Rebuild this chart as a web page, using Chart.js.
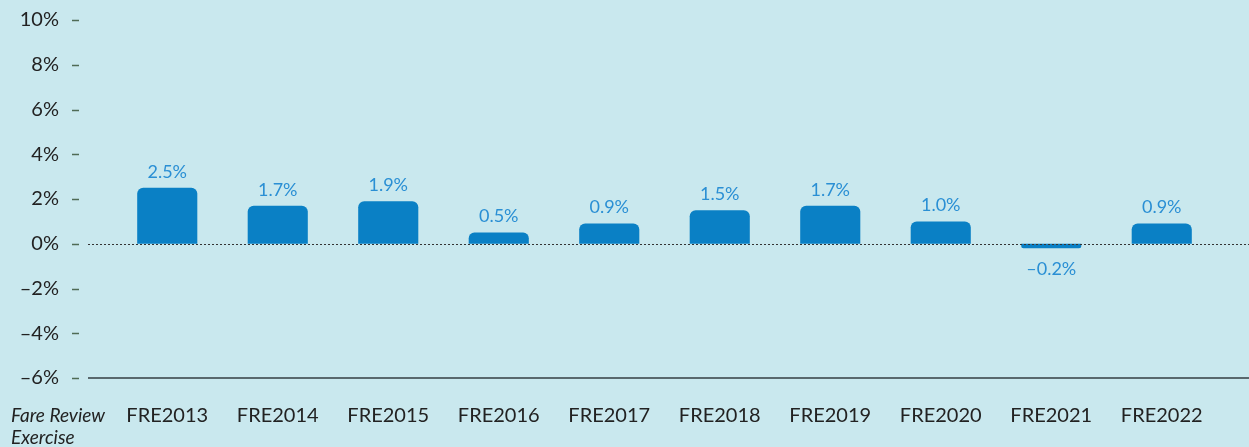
<!DOCTYPE html>
<html>
<head>
<meta charset="utf-8">
<script src="https://cdn.jsdelivr.net/npm/chart.js@4.4.1/dist/chart.umd.min.js"></script>
<style>
  html, body { margin: 0; padding: 0; background: #c9e8ee; }
  #wrap { width: 1249px; height: 447px; }
</style>
</head>
<body>
<div id="wrap"><canvas id="fareChart"></canvas></div>
<script>
// data
const categories = ["FRE2013", "FRE2014", "FRE2015", "FRE2016", "FRE2017",
                    "FRE2018", "FRE2019", "FRE2020", "FRE2021", "FRE2022"];
const changes = [2.5, 1.7, 1.9, 0.5, 0.9, 1.5, 1.7, 1.0, -0.2, 0.9];
const yTicks = [10, 8, 6, 4, 2, 0, -2, -4, -6];

const FONT = "Lato, 'Noto Sans', sans-serif";
const fmt = v => (v < 0 ? "\u2013" + Math.abs(v) : String(v)) + "%";
const fmt1 = v => (v < 0 ? "\u2013" + Math.abs(v).toFixed(1) : v.toFixed(1)) + "%";

/* ---- extra drawing: zero line, base line, tick dashes, value labels ---- */
const decorations = {
    id: "decorations",
    afterDatasetsDraw(chart) {
        const ctx = chart.ctx;
        const y = chart.scales.y;
        const W = chart.width;

        ctx.save();
        // small tick dashes next to the y labels
        ctx.strokeStyle = "#4f6b55";
        ctx.lineWidth = 1.5;
        yTicks.forEach(t => {
            const py = Math.round(y.getPixelForValue(t)) + 0.5;
            ctx.beginPath();
            ctx.moveTo(72, py);
            ctx.lineTo(79, py);
            ctx.stroke();
        });

        // dotted zero line
        const y0 = Math.round(y.getPixelForValue(0)) + 0.5;
        ctx.strokeStyle = "#333";
        ctx.lineWidth = 1;
        ctx.setLineDash([2, 2]);
        ctx.beginPath();
        ctx.moveTo(88, y0);
        ctx.lineTo(W, y0);
        ctx.stroke();
        ctx.setLineDash([]);

        // solid base line at the minimum
        const yb = Math.round(y.getPixelForValue(-6));
        ctx.strokeStyle = "#59686d";
        ctx.lineWidth = 2;
        ctx.beginPath();
        ctx.moveTo(88, yb);
        ctx.lineTo(W, yb);
        ctx.stroke();

        // value labels
        const meta = chart.getDatasetMeta(0);
        ctx.fillStyle = "#2a8fd4";
        ctx.font = "18px " + FONT;
        ctx.textAlign = "center";
        ctx.textBaseline = "middle";
        meta.data.forEach((bar, i) => {
            const v = changes[i];
            const ty = v >= 0 ? bar.y - 16 : bar.y + 21;
            ctx.fillText(fmt1(v), bar.x, ty);
        });

        // axis caption at the left
        ctx.fillStyle = "#222";
        ctx.font = "italic 19px " + FONT;
        ctx.textAlign = "left";
        ctx.fillText("Fare Review", 11, 416);
        ctx.fillText("Exercise", 11, 438);
        ctx.restore();
    }
};

new Chart(document.getElementById("fareChart"), {
    type: "bar",
    data: {
        labels: categories,
        datasets: [{
            data: changes,
            backgroundColor: "#0a80c5",
            borderRadius: 6,
            borderSkipped: "start",
            barPercentage: 0.8,
            categoryPercentage: 0.68
        }]
    },
    options: {
        responsive: true,
        maintainAspectRatio: false,
        animation: false,
        layout: { padding: { top: 20, right: 32, bottom: 0, left: 0 } },
        scales: {
            x: {
                afterFit: scale => { scale.height = 69; },
                grid: { display: false, drawTicks: false },
                border: { display: false },
                ticks: {
                    color: "#222",
                    font: { family: FONT, size: 20 },
                    padding: 26
                }
            },
            y: {
                min: -6,
                max: 10,
                afterFit: scale => {
                    scale.width = 112;
                    scale.paddingTop = 0;
                    scale.paddingBottom = 0;
                },
                afterBuildTicks: scale => {
                    scale.ticks = yTicks.map(v => ({ value: v }));
                },
                grid: { display: false, drawTicks: false },
                border: { display: false },
                ticks: {
                    color: "#222",
                    font: { family: FONT, size: 20 },
                    padding: 53,
                    callback: v => fmt(v)
                }
            }
        },
        plugins: {
            legend: { display: false },
            tooltip: { enabled: false }
        }
    },
    plugins: [decorations]
});
</script>
</body>
</html>
